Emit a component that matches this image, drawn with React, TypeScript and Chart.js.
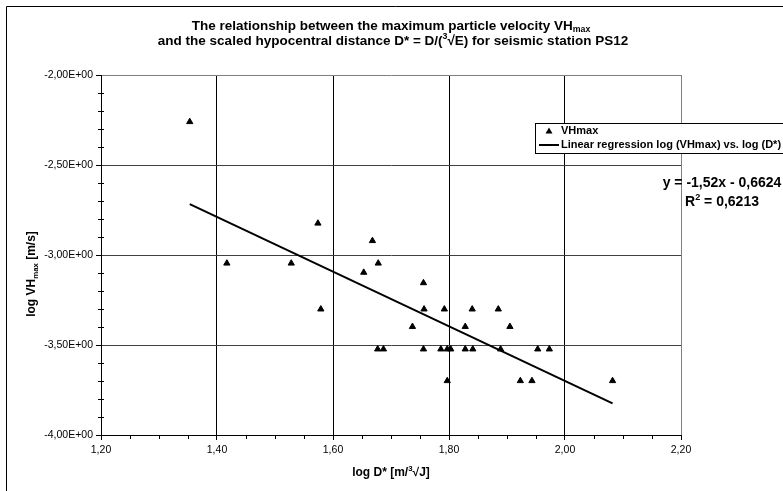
import React, { useEffect, useRef } from "react";
import { Chart, registerables } from "chart.js";

Chart.register(...registerables);

// ---- data ----
const xValues = [
  1.353, 1.417, 1.528, 1.574, 1.579, 1.653, 1.668, 1.678, 1.677, 1.687, 1.737,
  1.756, 1.757, 1.756, 1.792, 1.786, 1.797, 1.803, 1.797, 1.84, 1.828, 1.828,
  1.841, 1.885, 1.905, 1.889, 1.923, 1.943, 1.953, 1.973, 2.082,
];
const yValues = [
  -2.26, -3.046, -3.046, -2.824, -3.301, -3.097, -2.921, -3.046, -3.523, -3.523,
  -3.398, -3.155, -3.301, -3.523, -3.301, -3.523, -3.523, -3.523, -3.699, -3.301,
  -3.398, -3.523, -3.523, -3.301, -3.398, -3.523, -3.699, -3.699, -3.523, -3.523,
  -3.699,
];
const trendX = [1.353, 2.082];
const trendY = [-2.717, -3.824];

const xTickValues = [1.2, 1.4, 1.6, 1.8, 2.0, 2.2];
const yTickValues = [-4, -3.5, -3, -2.5, -2];
const xMinorTicks = [1.25, 1.3, 1.35, 1.45, 1.5, 1.55, 1.65, 1.7, 1.75, 1.85, 1.9, 1.95, 2.05, 2.1, 2.15];
const yMinorTicks = [-3.9, -3.8, -3.7, -3.6, -3.4, -3.3, -3.2, -3.1, -2.9, -2.8, -2.7, -2.6, -2.4, -2.3, -2.2, -2.1];

const seriesNames = ["VHmax", "Linear regression log (VHmax) vs. log (D*)"];
const equationText = "y = -1,52x - 0,6624";
const r2Text = " = 0,6213";

type Part = { t: string; k?: "sub" | "sup" };
const titleLine1: Part[] = [
  { t: "The relationship between the maximum particle velocity VH" },
  { t: "max", k: "sub" },
];
const titleLine2: Part[] = [
  { t: "and the scaled hypocentral distance D* = D/(" },
  { t: "3", k: "sup" },
  { t: "\u221AE) for seismic station PS12" },
];
const xTitle: Part[] = [{ t: "log D* [m/" }, { t: "3", k: "sup" }, { t: "\u221AJ]" }];
const yTitle: Part[] = [{ t: "log VH" }, { t: "max", k: "sub" }, { t: " [m/s]" }];
const r2Parts: Part[] = [{ t: "R" }, { t: "2", k: "sup" }, { t: r2Text }];

const FONT = "Arial, 'Liberation Sans', Helvetica, sans-serif";

function drawRich(
  ctx: CanvasRenderingContext2D,
  parts: Part[],
  x: number,
  y: number,
  size: number,
  bold: boolean,
  align: "left" | "center" | "right"
) {
  const f = (s: number) => `${bold ? "bold " : ""}${s}px ${FONT}`;
  const small = size * 0.65;
  let w = 0;
  for (const p of parts) {
    ctx.font = f(p.k ? small : size);
    w += ctx.measureText(p.t).width;
  }
  let cx = align === "center" ? x - w / 2 : align === "right" ? x - w : x;
  ctx.textBaseline = "middle";
  ctx.textAlign = "left";
  ctx.fillStyle = "#000";
  for (const p of parts) {
    const s = p.k ? small : size;
    ctx.font = f(s);
    const dy = p.k === "sub" ? size * 0.3 : p.k === "sup" ? -size * 0.32 : 0;
    ctx.fillText(p.t, cx, y + dy);
    cx += ctx.measureText(p.t).width;
  }
}

const fmtX = (v: number) => v.toFixed(2).replace(".", ",");
const fmtY = (v: number) => {
  const s = v.toExponential(2);
  const [m, e] = s.split("e");
  const en = parseInt(e, 10);
  return m.replace(".", ",") + "E" + (en < 0 ? "-" : "+") + String(Math.abs(en)).padStart(2, "0");
};

const decorPlugin = {
  id: "decor",
  afterDraw(chart: any) {
    const ctx: CanvasRenderingContext2D = chart.ctx;
    const xs = chart.scales.x;
    const ys = chart.scales.y;
    const area = chart.chartArea;
    ctx.save();

    // outer chart border
    ctx.strokeStyle = "#000";
    ctx.lineWidth = 1;
    ctx.beginPath();
    ctx.moveTo(6.5, 500);
    ctx.lineTo(6.5, 6.5);
    ctx.lineTo(800, 6.5);
    ctx.stroke();

    // minor ticks
    ctx.beginPath();
    for (const v of xMinorTicks) {
      const px = Math.round(xs.getPixelForValue(v)) + 0.5;
      ctx.moveTo(px, area.bottom);
      ctx.lineTo(px, area.bottom + 4);
    }
    for (const v of yMinorTicks) {
      const py = Math.round(ys.getPixelForValue(v)) + 0.5;
      ctx.moveTo(area.left - 3, py);
      ctx.lineTo(area.left + 3, py);
    }
    ctx.stroke();

    // titles
    drawRich(ctx, titleLine1, 391, 26, 13.5, true, "center");
    drawRich(ctx, titleLine2, 393, 41, 13.5, true, "center");
    drawRich(ctx, xTitle, 391, 473, 12, true, "center");
    ctx.save();
    ctx.translate(32, 274);
    ctx.rotate(-Math.PI / 2);
    drawRich(ctx, yTitle, 0, 0, 12, true, "center");
    ctx.restore();

    // legend
    const lx = 535, ly = 123, lb = 153;
    ctx.fillStyle = "#fff";
    ctx.fillRect(lx, ly, 800 - lx, lb - ly);
    ctx.strokeStyle = "#000";
    ctx.lineWidth = 1;
    ctx.strokeRect(lx + 0.5, ly + 0.5, 800 - lx, lb - ly);
    const r1 = 131, r2 = 145;
    ctx.fillStyle = "#000";
    ctx.beginPath();
    ctx.moveTo(549, r1 - 3.5);
    ctx.lineTo(552.5, r1 + 2.5);
    ctx.lineTo(545.5, r1 + 2.5);
    ctx.closePath();
    ctx.fill();
    ctx.beginPath();
    ctx.lineWidth = 2;
    ctx.moveTo(539, r2);
    ctx.lineTo(559, r2);
    ctx.stroke();
    ctx.font = `bold 11px ${FONT}`;
    ctx.textBaseline = "middle";
    ctx.textAlign = "left";
    ctx.fillText(seriesNames[0], 561, r1);
    ctx.fillText(seriesNames[1], 561, r2);

    // trendline equation
    drawRich(ctx, [{ t: equationText }], 722, 183, 14, true, "center");
    drawRich(ctx, r2Parts, 722, 202, 14, true, "center");

    ctx.restore();
  },
};

export default function App() {
  const ref = useRef<HTMLCanvasElement | null>(null);
  useEffect(() => {
    if (!ref.current) return;
    const points = xValues.map((x, i) => ({ x, y: yValues[i] }));
    const trend = trendX.map((x, i) => ({ x, y: trendY[i] }));
    const chart = new Chart(ref.current, {
      type: "scatter",
      data: {
        datasets: [
          {
            label: seriesNames[0],
            data: points,
            pointStyle: "triangle",
            pointRadius: 3.6,
            pointBorderWidth: 1,
            backgroundColor: "#000",
            borderColor: "#000",
          },
          {
            label: seriesNames[1],
            data: trend,
            showLine: true,
            borderColor: "#000",
            borderWidth: 2,
            pointRadius: 0,
            backgroundColor: "#000",
          },
        ],
      },
      options: {
        animation: false,
        responsive: false,
        devicePixelRatio: 1,
        layout: { padding: { left: 0, top: 75, right: 102, bottom: 0 } },
        plugins: {
          legend: { display: false },
          title: { display: false },
          tooltip: { enabled: false },
        },
        scales: {
          x: {
            type: "linear",
            min: 1.2,
            max: 2.2,
            afterBuildTicks: (s: any) => {
              s.ticks = xTickValues.map((v) => ({ value: v }));
            },
            afterFit: (s: any) => {
              s.height = 56;
            },
            grid: {
              color: (c: any) => (c.tick && c.tick.value === 2.2 ? "#808080" : "#000"),
              lineWidth: 1,
              drawTicks: true,
              tickLength: 5,
              tickColor: "#000",
            },
            border: { display: true, color: "#000", width: 1 },
            ticks: {
              padding: 4,
              color: "#000",
              font: { family: FONT, size: 10.5 },
              maxRotation: 0,
              autoSkip: false,
              callback: (v: any) => fmtX(Number(v)),
            },
          },
          y: {
            type: "linear",
            min: -4,
            max: -2,
            afterBuildTicks: (s: any) => {
              s.ticks = yTickValues.map((v) => ({ value: v }));
            },
            afterFit: (s: any) => {
              s.width = 101;
            },
            grid: {
              color: (c: any) => (c.tick && c.tick.value === -2 ? "#808080" : "#404040"),
              lineWidth: 1,
              drawTicks: true,
              tickLength: 5,
              tickColor: "#000",
            },
            border: { display: true, color: "#000", width: 1 },
            ticks: {
              padding: 3,
              color: "#000",
              font: { family: FONT, size: 10.5 },
              autoSkip: false,
              callback: (v: any) => fmtY(Number(v)),
            },
          },
        },
      },
      plugins: [decorPlugin],
    } as any);
    return () => chart.destroy();
  }, []);
  return (
    <div style={{ position: "absolute", left: 0, top: 0, width: 783, height: 491, background: "#fff" }}>
      <canvas ref={ref} width={783} height={491} style={{ display: "block" }} />
    </div>
  );
}
